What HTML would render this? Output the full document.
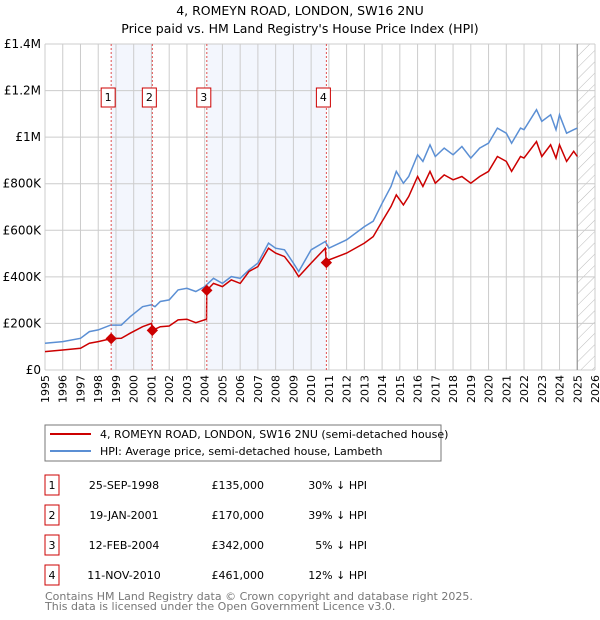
<!DOCTYPE html>
<html><head><meta charset="utf-8"><style>
body{margin:0;background:#fff;}
svg{display:block;font-family:"DejaVu Sans","Liberation Sans",sans-serif;}
</style></head><body>
<svg id="chart" width="600" height="620" viewBox="0 0 600 620">
<text x="300" y="15" text-anchor="middle" font-size="12.5" fill="#000">4, ROMEYN ROAD, LONDON, SW16 2NU</text>
<text x="300" y="33" text-anchor="middle" font-size="12.5" fill="#000">Price paid vs. HM Land Registry's House Price Index (HPI)</text>
<g id="bands"></g><g id="grid"></g><g id="axes"></g><g id="series"></g><g id="marks"></g>
<rect x="45" y="425" width="396" height="36" fill="#fff" stroke="#777" stroke-width="1"/>
<line x1="50" y1="434" x2="91" y2="434" stroke="#cc0000" stroke-width="2"/>
<text x="100" y="438" font-size="11">4, ROMEYN ROAD, LONDON, SW16 2NU (semi-detached house)</text>
<line x1="50" y1="451" x2="91" y2="451" stroke="#5b8fd4" stroke-width="2"/>
<text x="100" y="455" font-size="11">HPI: Average price, semi-detached house, Lambeth</text>
<g id="table"></g>
<text x="45" y="600" font-size="11" fill="#777">Contains HM Land Registry data © Crown copyright and database right 2025.</text>
<text x="45" y="610" font-size="11" fill="#777">This data is licensed under the Open Government Licence v3.0.</text>
</svg>
<script>
const hpiYears=[1995,1996,1997,1997.5,1998,1998.7,1999.3,1999.8,2000.5,2001,2001.2,2001.5,2002,2002.5,2003,2003.5,2004,2004.5,2005,2005.5,2006,2006.5,2007,2007.6,2008,2008.5,2009,2009.3,2010,2010.8,2011,2012,2013,2013.5,2014,2014.5,2014.8,2015.2,2015.5,2016,2016.3,2016.7,2017,2017.5,2018,2018.5,2019,2019.5,2020,2020.5,2021,2021.3,2021.8,2022,2022.7,2023,2023.5,2023.8,2024,2024.4,2024.8,2025];
const hpiValues=[115000,122000,136000,165000,172000,193000,193000,229000,272000,280000,272000,294000,301000,344000,351000,337000,358000,394000,372000,401000,394000,430000,459000,545000,523000,516000,459000,423000,516000,552000,523000,559000,616000,639000,716000,788000,853000,802000,831000,924000,896000,967000,917000,953000,924000,960000,910000,953000,974000,1039000,1017000,974000,1039000,1032000,1118000,1068000,1096000,1032000,1096000,1017000,1032000,1039000];
const priceYears=[1995,1996,1997,1997.5,1998,1998.73,1999.3,1999.8,2000.5,2001,2001.05,2001.5,2002,2002.5,2003,2003.5,2004.1,2004.12,2004.5,2005,2005.5,2006,2006.5,2007,2007.6,2008,2008.5,2009,2009.3,2010,2010.8,2010.86,2011,2012,2013,2013.5,2014,2014.5,2014.8,2015.2,2015.5,2016,2016.3,2016.7,2017,2017.5,2018,2018.5,2019,2019.5,2020,2020.5,2021,2021.3,2021.8,2022,2022.7,2023,2023.5,2023.8,2024,2024.4,2024.8,2025];
const priceValues=[79000,86000,93000,115000,122000,135000,136000,158000,186000,200000,170000,186000,189000,215000,218000,203000,218000,342000,372000,358000,387000,372000,423000,444000,523000,502000,487000,437000,401000,459000,523000,461000,473000,502000,545000,573000,638000,702000,752000,709000,745000,831000,788000,853000,802000,838000,817000,831000,802000,831000,853000,917000,896000,853000,917000,910000,981000,917000,967000,910000,967000,896000,939000,917000];
const saleYears=[1998.73,2001.05,2004.12,2010.86];
const salePrices=[135000,170000,342000,461000];
const saleLabels=["1","2","3","4"];
const saleDates=["25-SEP-1998","19-JAN-2001","12-FEB-2004","11-NOV-2010"];
const salePriceText=["£135,000","£170,000","£342,000","£461,000"];
const saleHpiText=["30% ↓ HPI","39% ↓ HPI","5% ↓ HPI","12% ↓ HPI"];
const yTicks=[0,200000,400000,600000,800000,1000000,1200000,1400000];
const yTickLabels=["£0","£200K","£400K","£600K","£800K","£1M","£1.2M","£1.4M"];
const xTicks=[1995,1996,1997,1998,1999,2000,2001,2002,2003,2004,2005,2006,2007,2008,2009,2010,2011,2012,2013,2014,2015,2016,2017,2018,2019,2020,2021,2022,2023,2024,2025,2026];

const NS="http://www.w3.org/2000/svg";
const X0=45,X1=595,Y0=370,Y1=44;
const xs=y=>X0+(y-1995)/(2026-1995)*(X1-X0);
const ys=v=>Y0-v/1400000*(Y0-Y1);
function mk(tag,attrs,parent){const e=document.createElementNS(NS,tag);for(const k in attrs)e.setAttribute(k,attrs[k]);parent.appendChild(e);return e;}
const bands=document.getElementById('bands'),grid=document.getElementById('grid'),axes=document.getElementById('axes'),series=document.getElementById('series'),marks=document.getElementById('marks'),table=document.getElementById('table');

for(let i=0;i<saleYears.length-1;i+=2){
 const r=mk('rect',{x:xs(saleYears[i]),y:Y1,width:xs(saleYears[i+1])-xs(saleYears[i]),height:Y0-Y1,fill:'#f3f6fd'},bands);
 
 
}
const defs=mk('defs',{},bands);
const pat=mk('pattern',{id:'hatch',width:8,height:8,patternUnits:'userSpaceOnUse',patternTransform:'rotate(45)'},defs);
mk('line',{x1:0,y1:0,x2:0,y2:8,stroke:'#bbb','stroke-width':1},pat);
const hz=mk('rect',{x:xs(2025),y:Y1,width:X1-xs(2025),height:Y0-Y1,fill:'url(#hatch)'},bands);



xTicks.forEach((t,i)=>{
 const l=mk('line',{x1:xs(t),y1:Y1,x2:xs(t),y2:Y0,stroke:'#cccccc','stroke-width':1},grid);
 
 
 const tx=mk('text',{x:0,y:0,'font-size':11,'text-anchor':'end',transform:`translate(${xs(t)+4},${Y0+5}) rotate(-90)`},axes);
 tx.textContent=t;
 
 
});
yTicks.forEach((t,i)=>{
 const l=mk('line',{x1:X0,y1:ys(t),x2:X1,y2:ys(t),stroke:'#cccccc','stroke-width':1},grid);
 
 
 const tx=mk('text',{x:X0-4,y:ys(t)+4,'font-size':12,'text-anchor':'end'},axes);
 tx.textContent=yTickLabels[i];
 
 
});
const endl=mk('line',{x1:xs(2025),y1:Y1,x2:xs(2025),y2:Y0,stroke:'#999','stroke-width':1.2},grid);



function path(xsArr,vs){return xsArr.map((y,i)=>(i?'L':'M')+xs(y).toFixed(1)+','+ys(vs[i]).toFixed(1)).join('');}
const hp=mk('path',{d:path(hpiYears,hpiValues),fill:'none',stroke:'#5b8fd4','stroke-width':1.5},series);


const pp=mk('path',{d:path(priceYears,priceValues),fill:'none',stroke:'#cc0000','stroke-width':1.5},series);



saleYears.forEach((y,i)=>{
 const x=xs(y);
 const l=mk('line',{x1:x,y1:Y1,x2:x,y2:Y0,stroke:'#e05050','stroke-width':1,'stroke-dasharray':'2,2'},marks);
 
 
 const d=mk('rect',{x:x-4,y:ys(salePrices[i])-4,width:8,height:8,fill:'#cc0000',transform:`rotate(45 ${x} ${ys(salePrices[i])})`},marks);
 
 
 const b=mk('rect',{x:x-10,y:88,width:14,height:19,fill:'#fff',stroke:'#cc0000','stroke-width':1},marks);
 
 
 const t=mk('text',{x:x-3,y:101,'font-size':11,'text-anchor':'middle'},marks);
 t.textContent=saleLabels[i];
 
 
 const ry=483+i*30;
 const nb=mk('rect',{x:45,y:ry-8,width:14,height:20,fill:'#fff',stroke:'#cc0000','stroke-width':1},table);
 
 
 const nt=mk('text',{x:52,y:ry+6,'font-size':11,'text-anchor':'middle'},table);
 nt.textContent=saleLabels[i];
 
 
 const dt=mk('text',{x:124,y:ry+6,'font-size':11,'text-anchor':'middle'},table);
 dt.textContent=saleDates[i];
 
 
 const pt=mk('text',{x:264,y:ry+6,'font-size':11,'text-anchor':'end'},table);
 pt.textContent=salePriceText[i];
 
 
 const ht=mk('text',{x:367,y:ry+6,'font-size':11,'text-anchor':'end'},table);
 ht.textContent=saleHpiText[i];
 
 
});
</script>
</body></html>
